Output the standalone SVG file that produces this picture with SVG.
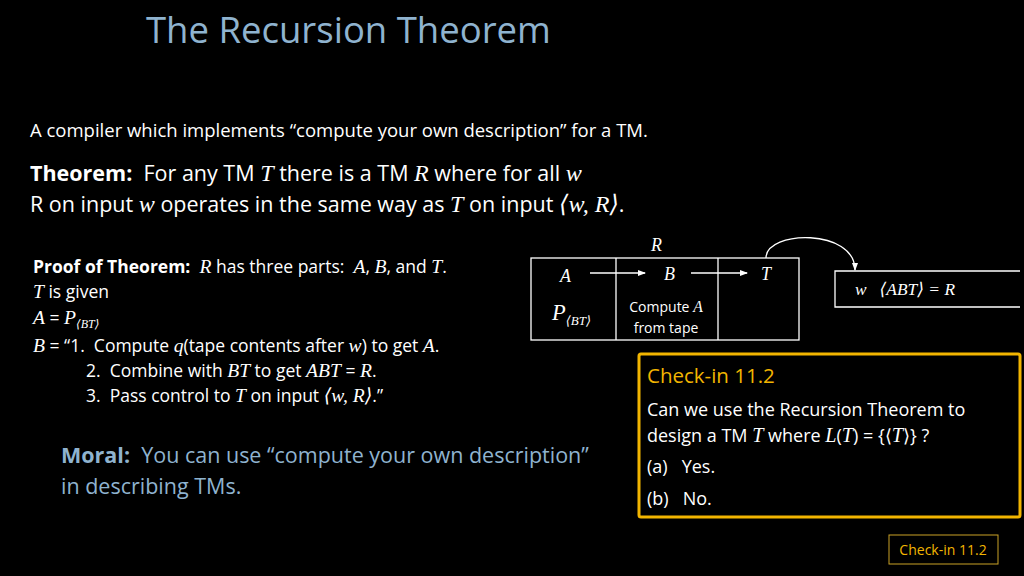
<svg xmlns="http://www.w3.org/2000/svg" width="1024" height="576" viewBox="0 0 1024 576" xml:space="preserve">
<style>
text{font-family:"Open Sans","Liberation Sans",sans-serif;fill:#fff;white-space:pre}
.m{font-family:"Liberation Serif","DejaVu Serif",serif;font-style:italic;font-size:1.12em}
.b{font-weight:bold}
.ln{stroke:#fff;stroke-width:1.3;fill:none}
</style>
<defs><marker id="ah" markerWidth="8" markerHeight="8" refX="7" refY="4" orient="auto" markerUnits="userSpaceOnUse"><path d="M0,1 L8,4 L0,7Z" fill="#fff"/></marker></defs>
<rect width="1024" height="576" fill="#000"/>
<text x="146" y="43" font-size="36.5" style="fill:#8fb3cf">The Recursion Theorem</text>
<text x="30" y="137" font-size="18.5">A compiler which implements “compute your own description” for a TM.</text>
<text x="30" y="181" font-size="21.5"><tspan class="b">Theorem:</tspan>  For any TM <tspan class="m">T</tspan> there is a TM <tspan class="m">R</tspan> where for all <tspan class="m">w</tspan></text>
<text x="30" y="212" font-size="21.5">R on input <tspan class="m">w</tspan> operates in the same way as <tspan class="m">T</tspan> on input <tspan class="m">⟨w, R⟩</tspan>.</text>
<g id="proof" font-size="17.5">
<text x="33" y="273"><tspan class="b">Proof of Theorem:</tspan>  <tspan class="m">R</tspan> has three parts:  <tspan class="m">A</tspan>, <tspan class="m">B</tspan>, and <tspan class="m">T</tspan>.</text>
<text x="33" y="298"><tspan class="m">T</tspan> is given</text>
<text x="33" y="324"><tspan class="m">A</tspan> = <tspan class="m">P</tspan><tspan class="m" style="font-size:12px" dy="4">⟨BT⟩</tspan></text>
<text x="33" y="352"><tspan class="m">B</tspan> = “1.  Compute <tspan class="m">q</tspan>(tape contents after <tspan class="m">w</tspan>) to get <tspan class="m">A</tspan>.</text>
<text x="86" y="377">2.  Combine with <tspan class="m">BT</tspan> to get <tspan class="m">ABT</tspan> = <tspan class="m">R</tspan>.</text>
<text x="86" y="402">3.  Pass control to <tspan class="m">T</tspan> on input <tspan class="m">⟨w, R⟩</tspan>.”</text>
</g>
<text x="61" y="463" font-size="21.5" style="fill:#8fb3cf"><tspan class="b">Moral:</tspan>  You can use “compute your own description”</text>
<text x="61" y="494" font-size="21.5" style="fill:#8fb3cf">in describing TMs.</text>
<g id="R">
<text class="m" x="651" y="251" font-size="17">R</text>
<rect x="531" y="258" width="268" height="82" class="ln"/>
<line x1="616" y1="258" x2="616" y2="340" class="ln"/>
<line x1="718" y1="258" x2="718" y2="340" class="ln"/>
<text class="m" x="560" y="282" font-size="17">A</text>
<text class="m" x="664" y="280" font-size="17">B</text>
<text class="m" x="761" y="280" font-size="17">T</text>
<text x="552" y="320" font-size="20"><tspan class="m">P</tspan><tspan class="m" style="font-size:13px" dy="5">⟨BT⟩</tspan></text>
<text x="666" y="312" font-size="14" text-anchor="middle">Compute <tspan class="m">A</tspan></text>
<text x="666" y="333" font-size="14" text-anchor="middle">from tape</text>
</g>
<g id="tape">
<path d="M1020,271 H835 V307 H1020" class="ln"/>
<text x="855" y="295" font-size="15.5"><tspan class="m">w   ⟨ABT⟩ = R</tspan></text>
</g>
<g id="connectors">
<line x1="590" y1="273" x2="645" y2="273" class="ln" marker-end="url(#ah)"/>
<line x1="691" y1="273" x2="747" y2="273" class="ln" marker-end="url(#ah)"/>
<path d="M766,258 C766,230 855,228 855,270" class="ln" marker-end="url(#ah)"/>
</g>
<g id="checkin">
<rect x="639" y="354" width="381" height="163" fill="none" stroke="#f2b500" stroke-width="3" rx="2"/>
<text x="647" y="383" font-size="20.5" style="fill:#f2b500">Check-in 11.2</text>
<text x="647" y="416" font-size="18">Can we use the Recursion Theorem to</text>
<text x="647" y="442" font-size="18">design a TM <tspan class="m">T</tspan> where <tspan class="m">L</tspan>(<tspan class="m">T</tspan>) = {⟨<tspan class="m">T</tspan>⟩} ?</text>
<text x="647" y="473" font-size="18">(a)   Yes.</text>
<text x="647" y="505" font-size="18">(b)   No.</text>
</g>
<g id="footer">
<rect x="889" y="535" width="109" height="29" fill="none" stroke="#c9a227" stroke-width="1"/>
<text x="943" y="555" font-size="14" text-anchor="middle" style="fill:#f2b500">Check-in 11.2</text>
</g>
</svg>
